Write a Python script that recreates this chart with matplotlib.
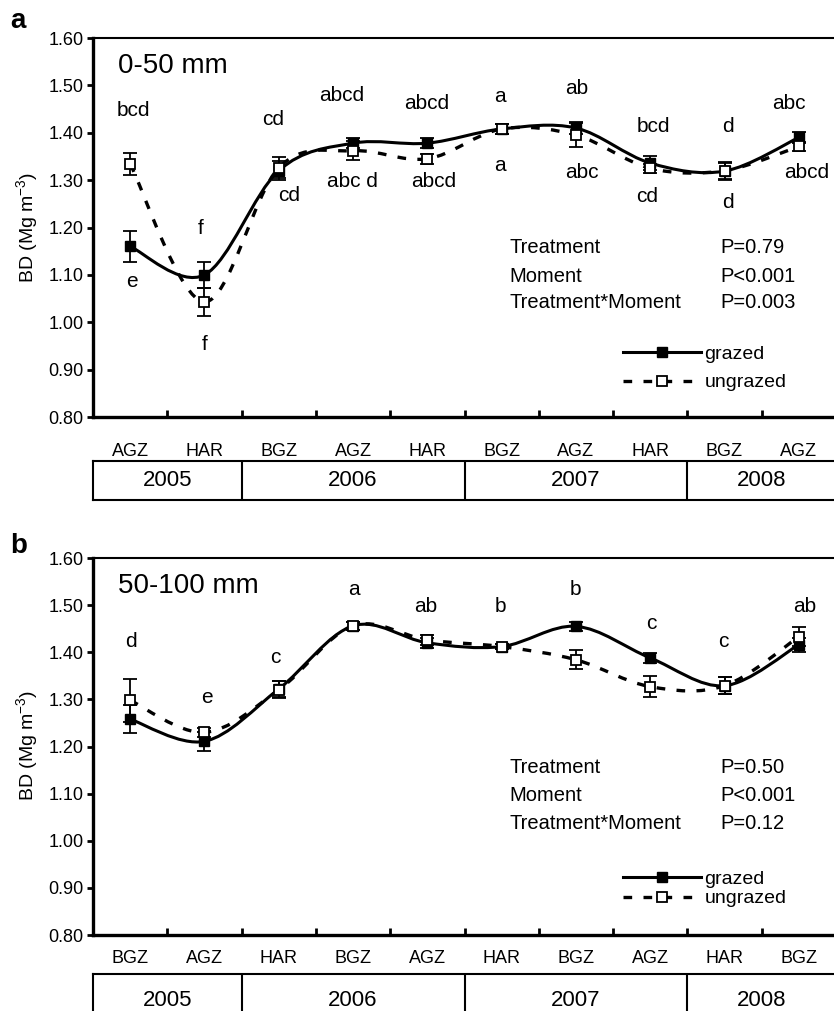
import numpy as np
import matplotlib
matplotlib.use("Agg")
import matplotlib.pyplot as plt
from matplotlib.path import Path
from matplotlib.patches import PathPatch
from matplotlib.lines import Line2D

plt.rcParams['font.family'] = ['Liberation Sans', 'DejaVu Sans']
plt.rcParams['mathtext.default'] = 'regular'

# === DATA ===
years = ['2005', '2006', '2007', '2008']
year_span = [2, 3, 3, 2]

moments_a = ['AGZ', 'HAR', 'BGZ', 'AGZ', 'HAR', 'BGZ', 'AGZ', 'HAR', 'BGZ', 'AGZ']
grazed_a = [1.160, 1.100, 1.320, 1.378, 1.378, 1.408, 1.410, 1.336, 1.319, 1.390]
grazed_a_err = [0.033, 0.028, 0.020, 0.010, 0.010, 0.010, 0.012, 0.015, 0.018, 0.012]
ungrazed_a = [1.334, 1.043, 1.326, 1.362, 1.345, 1.408, 1.395, 1.325, 1.320, 1.371]
ungrazed_a_err = [0.024, 0.030, 0.022, 0.020, 0.010, 0.010, 0.025, 0.010, 0.018, 0.010]
letters_a_top = ['bcd', 'f', 'cd', 'abcd', 'abcd', 'a', 'ab', 'bcd', 'd', 'abc']
letters_a_bot = ['e', 'f', 'cd', 'abc d', 'abcd', 'a', 'abc', 'cd', 'd', 'abcd']
stats_a = [('Treatment', 'P=0.79'), ('Moment', 'P<0.001'), ('Treatment*Moment', 'P=0.003')]

moments_b = ['BGZ', 'AGZ', 'HAR', 'BGZ', 'AGZ', 'HAR', 'BGZ', 'AGZ', 'HAR', 'BGZ']
grazed_b = [1.258, 1.211, 1.322, 1.456, 1.420, 1.412, 1.455, 1.388, 1.329, 1.416]
grazed_b_err = [0.030, 0.020, 0.018, 0.008, 0.010, 0.005, 0.010, 0.010, 0.018, 0.015]
ungrazed_b = [1.298, 1.230, 1.320, 1.456, 1.426, 1.412, 1.384, 1.327, 1.329, 1.433]
ungrazed_b_err = [0.045, 0.010, 0.018, 0.008, 0.010, 0.005, 0.020, 0.022, 0.018, 0.020]
letters_b_top = ['d', 'e', 'c', 'a', 'ab', 'b', 'b', 'c', 'c', 'ab']
stats_b = [('Treatment', 'P=0.50'), ('Moment', 'P<0.001'), ('Treatment*Moment', 'P=0.12')]

# === LABEL PLACEMENT (data coords) ===
a_top_x = [0.04, 0.95, 1.92, 2.85, 3.99, 4.98, 6.01, 7.04, 8.05, 8.87]
a_top_y = [1.448, 1.197, 1.429, 1.478, 1.462, 1.476, 1.494, 1.413, 1.413, 1.462]
a_bot_x = [0.03, 1.00, 2.14, 2.99, 4.08, 4.98, 6.08, 6.96, 8.05, 9.10]
a_bot_y = [1.087, 0.952, 1.267, 1.297, 1.297, 1.330, 1.317, 1.265, 1.252, 1.317]
b_top_x = [0.01, 1.03, 1.95, 3.01, 3.98, 4.99, 5.99, 7.02, 7.99, 9.08]
b_top_y = [1.422, 1.305, 1.388, 1.534, 1.498, 1.498, 1.534, 1.462, 1.422, 1.498]

W, H = 834, 1011
DASH = (0, (2.6, 3.4))


def smooth_path(x, y):
    # Excel-like smoothed line: cubic bezier through the points
    pts = np.column_stack([x, y]).astype(float)
    n = len(pts)
    verts = [pts[0]]
    codes = [Path.MOVETO]
    for i in range(n - 1):
        p0 = pts[i - 1] if i > 0 else pts[i]
        p1, p2 = pts[i], pts[i + 1]
        p3 = pts[i + 2] if i + 2 < n else pts[i + 1]
        verts += [p1 + (p2 - p0) / 6, p2 - (p3 - p1) / 6, p2]
        codes += [Path.CURVE4] * 3
    return Path(verts, codes)


def draw_panel(ax, moments, g, ge, u, ue):
    x = np.arange(len(moments))
    ax.add_patch(PathPatch(smooth_path(x, g), fc='none', ec='black', lw=2.2, zorder=2))
    ax.add_patch(PathPatch(smooth_path(x, u), fc='none', ec='black', lw=2.4,
                           linestyle=DASH, zorder=2))
    ax.errorbar(x, g, yerr=ge, fmt='s', ms=7, mfc='black', mec='black', ecolor='black',
                elinewidth=1.3, capsize=4.8, capthick=1.3, zorder=3)
    ax.errorbar(x, u, yerr=ue, fmt='s', ms=6.5, mfc='white', mec='black', mew=1.3,
                ecolor='black', elinewidth=1.3, capsize=4.8, capthick=1.3, zorder=4)

    ax.set_xlim(-0.5, 9.5)
    ax.set_ylim(0.80, 1.60)
    ax.set_yticks(np.arange(0.8, 1.61, 0.1))
    ax.set_yticklabels([f"{v:.2f}" for v in np.arange(0.8, 1.61, 0.1)])
    ax.set_xticks(np.arange(0.5, 9, 1.0))
    ax.set_xticklabels([])
    ax.set_xticks(x, minor=True)
    ax.set_xticklabels(moments, minor=True)
    ax.tick_params(axis='y', direction='out', length=4, width=2, labelsize=13, pad=3)
    ax.tick_params(axis='x', which='major', direction='in', length=5, width=2)
    ax.tick_params(axis='x', which='minor', length=0, labelsize=13)
    ax.spines['right'].set_visible(False)
    ax.spines['left'].set_linewidth(2.4)
    ax.spines['bottom'].set_linewidth(2.4)
    ax.spines['top'].set_linewidth(1.5)

    leg_handles = [
        Line2D([], [], color='black', lw=2.2, marker='s', ms=7, mfc='black'),
        Line2D([], [], color='black', lw=2.4, linestyle=DASH, marker='s', ms=6.5,
               mfc='white', mew=1.3),
    ]
    return leg_handles


def year_box(fig, rect):
    bx = fig.add_axes(rect)
    bx.set_xlim(-0.5, 9.5)
    bx.set_ylim(0, 1)
    bx.set_xticks([])
    bx.set_yticks([])
    for s in bx.spines.values():
        s.set_linewidth(1.5)
    bx.spines['right'].set_visible(False)
    edges = np.cumsum(year_span) - 0.5
    start = -0.5
    for yr, e in zip(years, edges):
        if e < 9:
            bx.axvline(e, color='black', lw=1.5)
        bx.text((start + e) / 2, 0.5, yr, ha='center', va='center', fontsize=16)
        start = e
    return bx


fig = plt.figure(figsize=(W / 100, H / 100), dpi=100)

ax_w = 743 / W
ax_a = fig.add_axes([93 / W, (H - 417) / H, ax_w, 379 / H])
ax_b = fig.add_axes([93 / W, (H - 935) / H, ax_w, 377 / H])

h_a = draw_panel(ax_a, moments_a, grazed_a, grazed_a_err, ungrazed_a, ungrazed_a_err)
h_b = draw_panel(ax_b, moments_b, grazed_b, grazed_b_err, ungrazed_b, ungrazed_b_err)
ax_a.tick_params(axis='x', which='minor', pad=19)
ax_b.tick_params(axis='x', which='minor', pad=11)

for txt, xx, yy in zip(letters_a_top, a_top_x, a_top_y):
    ax_a.text(xx, yy, txt, ha='center', va='center', fontsize=15)
for txt, xx, yy in zip(letters_a_bot, a_bot_x, a_bot_y):
    ax_a.text(xx, yy, txt, ha='center', va='center', fontsize=15)
for txt, xx, yy in zip(letters_b_top, b_top_x, b_top_y):
    ax_b.text(xx, yy, txt, ha='center', va='center', fontsize=15)

ax_a.text(0.034, 0.926, '0-50 mm', transform=ax_a.transAxes, ha='left', va='center', fontsize=20)
ax_b.text(0.034, 0.926, '50-100 mm', transform=ax_b.transAxes, ha='left', va='center', fontsize=20)

for ax, stats, ys in [(ax_a, stats_a, [0.446, 0.372, 0.301]),
                      (ax_b, stats_b, [0.443, 0.369, 0.297])]:
    for (name, p), yy in zip(stats, ys):
        ax.text(0.561, yy, name, transform=ax.transAxes, ha='left', va='center', fontsize=14.5)
        ax.text(0.844, yy, p, transform=ax.transAxes, ha='left', va='center', fontsize=14.5)

leg_a = ax_a.legend(h_a, ['grazed', 'ungrazed'], loc='center left', bbox_to_anchor=(0.713, 0.128),
                    frameon=False, fontsize=14, handlelength=4.0, handletextpad=0.2,
                    borderpad=0, borderaxespad=0, labelspacing=0.55)
leg_b = ax_b.legend(h_b, ['grazed', 'ungrazed'], loc='center left', bbox_to_anchor=(0.713, 0.122),
                    frameon=False, fontsize=14, handlelength=4.0, handletextpad=0.2,
                    borderpad=0, borderaxespad=0, labelspacing=0.08)

year_box(fig, [93 / W, (H - 500) / H, ax_w, 39 / H])
year_box(fig, [93 / W, (H - 1026) / H, ax_w, 52 / H])

fig.text(27 / W, 1 - 227 / H, 'BD (Mg m$^{-3}$)', rotation=90, ha='center', va='center', fontsize=14)
fig.text(27 / W, 1 - 745 / H, 'BD (Mg m$^{-3}$)', rotation=90, ha='center', va='center', fontsize=14)
fig.text(10 / W, 1 - 28 / H, 'a', fontsize=20, fontweight='bold', ha='left', va='baseline')
fig.text(10 / W, 1 - 553 / H, 'b', fontsize=20, fontweight='bold', ha='left', va='baseline')

fig.savefig('out.png', dpi=100)
